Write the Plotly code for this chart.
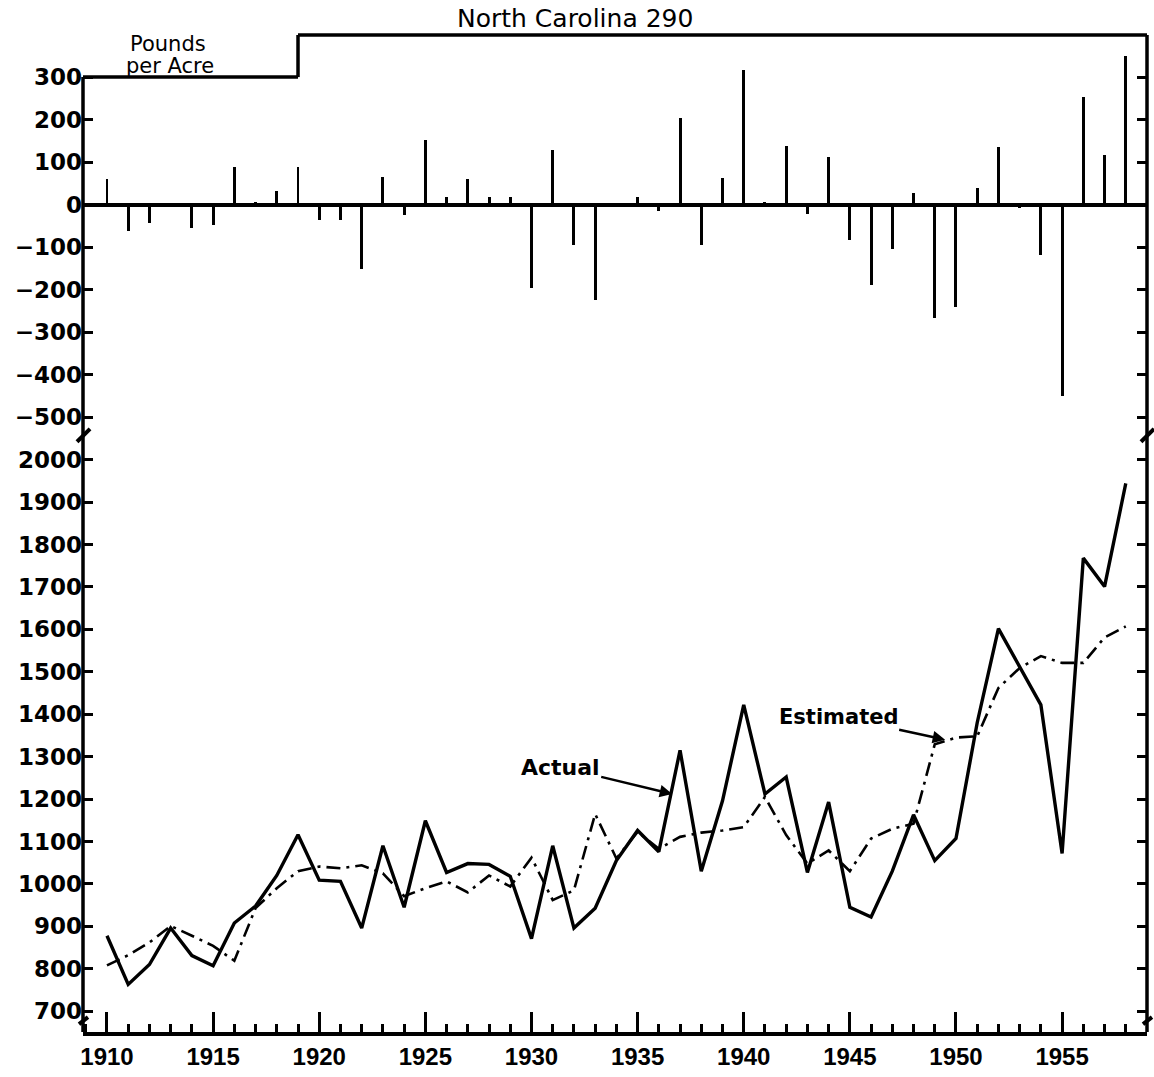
import plotly.graph_objects as go

# ---------------------------------------------------------------- data
years = list(range(1910, 1959))

# deviation of actual from estimated yield (pounds per acre)
residuals = [60, -63, -44, -5, -54, -47, 88, 7, 33, 88,
             -37, -35, -151, 65, -25, 153, 19, 60, 18, 18,
             -195, 128, -96, -225, 2, 18, -14, 204, -96, 63,
             316, 6, 138, -23, 112, -82, -188, -105, 28, -267,
             -240, 40, 135, -8, -118, -449, 253, 116, 349]

actual = [878, 763, 810, 896, 831, 807, 908, 948, 1020, 1116,
          1009, 1006, 896, 1090, 945, 1149, 1027, 1048, 1046, 1018,
          871, 1090, 896, 943, 1055, 1126, 1076, 1315, 1030, 1196,
          1422, 1212, 1252, 1027, 1193, 945, 922, 1030, 1163, 1055,
          1107, 1380, 1602, 1510, 1422, 1072, 1768, 1701, 1944]

estimated = [808, 832, 862, 901, 878, 854, 819, 943, 990, 1030,
             1041, 1037, 1044, 1025, 971, 990, 1006, 980, 1020, 994,
             1062, 962, 985, 1165, 1060, 1123, 1083, 1111, 1121, 1126,
             1134, 1205, 1115, 1048, 1079, 1030, 1107, 1130, 1142, 1329,
             1345, 1348, 1462, 1509, 1537, 1521, 1521, 1581, 1607]

x_ticks = list(range(1910, 1956, 5))
top_ticks = list(range(-500, 301, 100))
top_long_ticks = [-400, -200, 0, 200]
bottom_ticks = list(range(700, 2001, 100))
bottom_long_ticks = list(range(800, 2001, 200))

# ---------------------------------------------------------------- geometry
W, H = 1154, 1077
ML, MR, MT, MB = 83, 7, 35, 37
X_RANGE = [1908.87, 1959.0]
TOP_RANGE = [-546, 399]
BOT_RANGE = [651, 2054]
SPLIT = 0.597          # paper height where the two panels meet
STEP_YEAR = 1919       # frame steps up here to clear the unit label
STEP_LEVEL = 300

INK = "black"
LW = 3.5

plot_w = W - ML - MR
plot_h = H - MT - MB


def px_x(px):
    return (px - ML) / plot_w


def px_y(py):
    return (H - MB - py) / plot_h


def paper_x(year):
    return (year - X_RANGE[0]) / (X_RANGE[1] - X_RANGE[0])


def paper_y_top(v):
    return SPLIT + (v - TOP_RANGE[0]) / (TOP_RANGE[1] - TOP_RANGE[0]) * (1 - SPLIT)


fig = go.Figure()

# residual spikes
fig.add_trace(go.Bar(
    x=years, y=residuals, width=0.14, marker=dict(color=INK, line=dict(width=0)),
    xaxis="x", yaxis="y", showlegend=False,
))

# estimated yield
fig.add_trace(go.Scatter(
    x=years, y=estimated, mode="lines",
    line=dict(color=INK, width=2.6, dash="14px,6px,3px,6px"),
    xaxis="x2", yaxis="y2", showlegend=False,
))

# actual yield
fig.add_trace(go.Scatter(
    x=years, y=actual, mode="lines",
    line=dict(color=INK, width=3.4),
    xaxis="x2", yaxis="y2", showlegend=False,
))

tick_font_y = dict(family="DejaVu Sans", size=23, color=INK, weight="bold")
tick_font_x = dict(family="Liberation Sans", size=24, color=INK, weight="bold")

common_y = dict(showgrid=False, showline=False, ticks="inside", tickcolor=INK,
                tickwidth=3, mirror="ticks", fixedrange=True)

fig.update_layout(
    width=W, height=H,
    margin=dict(l=ML, r=MR, t=MT, b=MB, pad=0),
    paper_bgcolor="white", plot_bgcolor="white",
    bargap=0,
    xaxis=dict(domain=[0, 1], anchor="y", range=X_RANGE, showgrid=False,
               showline=False, zeroline=False, ticks="", showticklabels=False,
               matches="x2"),
    xaxis2=dict(domain=[0, 1], anchor="y2", range=X_RANGE, showgrid=False,
                showline=True, linecolor=INK, linewidth=LW, zeroline=False,
                ticks="inside", tickvals=x_ticks, ticklen=20, tickwidth=3,
                tickcolor=INK, tickfont=tick_font_x,
                minor=dict(dtick=1, tick0=1910, ticks="inside", ticklen=8,
                           tickwidth=3, tickcolor=INK)),
    yaxis=dict(domain=[SPLIT, 1], anchor="x", range=TOP_RANGE,
               tickvals=top_ticks, ticklen=10, tickfont=tick_font_y,
               zeroline=True, zerolinecolor=INK, zerolinewidth=LW, **common_y),
    yaxis3=dict(overlaying="y", anchor="x", range=TOP_RANGE, side="left",
                tickvals=top_long_ticks, ticklen=18, showticklabels=False,
                zeroline=False, **common_y),
    yaxis2=dict(domain=[0, SPLIT], anchor="x2", range=BOT_RANGE,
                tickvals=bottom_ticks, ticklen=10, tickfont=tick_font_y,
                zeroline=False, **common_y),
    yaxis4=dict(overlaying="y2", anchor="x2", range=BOT_RANGE, side="left",
                tickvals=bottom_long_ticks, ticklen=18, showticklabels=False,
                zeroline=False, **common_y),
)

# ---------------------------------------------------------------- frame
step_x = paper_x(STEP_YEAR)
step_y = paper_y_top(STEP_LEVEL)
frame = [
    (0, step_y, step_x, step_y),      # low top edge under the unit label
    (step_x, step_y, step_x, 1),      # the step
    (step_x, 1, 1, 1),                # high top edge
    (0, 0, 0, step_y),                # left edge
    (1, 0, 1, 1),                     # right edge
]
shapes = []
for x0, y0, x1, y1 in frame:
    shapes.append(dict(type="line", xref="paper", yref="paper",
                       x0=x0, y0=y0, x1=x1, y1=y1,
                       line=dict(color=INK, width=LW)))

# scale-break marks on both vertical edges
for ex in (83, 1147):
    shapes.append(dict(type="line", xref="paper", yref="paper",
                       x0=px_x(ex - 6), y0=px_y(445), x1=px_x(ex + 7), y1=px_y(432),
                       line=dict(color=INK, width=4)))
    shapes.append(dict(type="line", xref="paper", yref="paper",
                       x0=px_x(ex - 4), y0=px_y(1032), x1=px_x(ex + 5), y1=px_y(1025),
                       line=dict(color=INK, width=4)))
fig.update_layout(shapes=shapes)

# ---------------------------------------------------------------- labels
text_font = dict(family="DejaVu Sans", color=INK)


def note(text, px, py, size, **extra):
    return dict(text=text, xref="paper", yref="paper", x=px_x(px), y=px_y(py),
                xanchor="center", yanchor="middle", showarrow=False,
                font=dict(size=size, **text_font), **extra)


annotations = [
    note("North Carolina 290", 575, 18, 25),
    note("Pounds", 168, 44, 21, height=20, borderpad=0),
    note("per Acre", 170, 66, 21, height=20, borderpad=0),
    dict(text="<b>Actual</b>", xref="x2", yref="y2", x=1936.63, y=1212,
         ax=-112, ay=-27, showarrow=True, arrowhead=2, arrowsize=1,
         arrowwidth=2.5, arrowcolor=INK, font=dict(size=22, **text_font)),
    dict(text="<b>Estimated</b>", xref="x2", yref="y2", x=1949.49, y=1340,
         ax=-107, ay=-23, showarrow=True, arrowhead=2, arrowsize=1,
         arrowwidth=2.5, arrowcolor=INK, font=dict(size=21, **text_font)),
]
fig.update_layout(annotations=annotations)

fig.write_html("out.html")
